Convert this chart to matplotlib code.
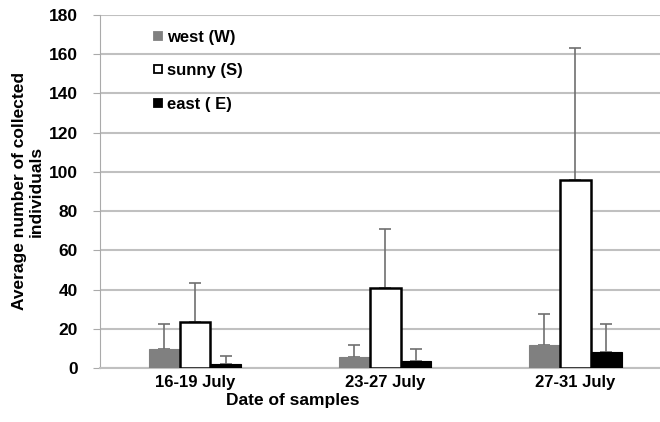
import matplotlib.pyplot as plt
import numpy as np
from matplotlib.lines import Line2D

plt.rcParams['font.family'] = ['Liberation Sans', 'DejaVu Sans']

dates = ['16-19 July', '23-27 July', '27-31 July']
series = ['west (W)', 'sunny (S)', 'east ( E)']
west = [9.5, 5.4, 11.7]
sunny = [23.5, 40.6, 95.9]
east = [2.0, 3.4, 8.3]
west_err = [12.9, 6.3, 15.7]
sunny_err = [19.8, 30.1, 67.4]
east_err = [4.1, 6.3, 14.0]

values = [west, sunny, east]
errors = [west_err, sunny_err, east_err]
faces = ['#808080', 'white', 'black']
edges = ['#808080', 'black', 'black']

fig = plt.figure(figsize=(6.6, 4.22), dpi=100)
ax = fig.add_axes([100 / 660, 54 / 422, 560 / 660, 353 / 422])

x = np.arange(len(dates))
w = 0.163
for i in range(3):
    ax.bar(x + (i - 1) * w, values[i], width=w, color=faces[i],
           edgecolor=edges[i], linewidth=1.8 if i == 1 else 0.8, zorder=3)
    ax.errorbar(x + (i - 1) * w, values[i], yerr=[np.zeros(3), errors[i]],
                fmt='none', ecolor='#707070', elinewidth=1.2, capsize=4,
                capthick=1.2, zorder=2)

ax.set_ylim(0, 180)
ax.set_yticks(np.arange(0, 181, 20))
ax.set_xlim(-0.5, 2.447)
ax.set_xticks(x)
ax.set_xticklabels(dates, fontsize=12, fontweight='bold')
for lab in ax.get_yticklabels():
    lab.set_fontsize(12.5)
    lab.set_fontweight('bold')
ax.tick_params(axis='x', length=0, pad=5)
ax.tick_params(axis='y', length=5, color='#aaaaaa', pad=11)
ax.yaxis.grid(True, color='#c0c0c0', linewidth=1.5, zorder=0)
ax.set_axisbelow(True)
for s in ['top', 'right']:
    ax.spines[s].set_visible(False)
ax.spines['left'].set_color('#aaaaaa')
ax.spines['bottom'].set_color('#c0c0c0')
ax.spines['bottom'].set_linewidth(1.5)

ax.set_xlabel('Date of samples', fontsize=12.5, fontweight='bold')
ax.xaxis.set_label_coords(0.345, -0.093)
ax.xaxis.label.set_va('center')
ax.set_ylabel('Average number of collected\nindividuals', fontsize=12.5,
              fontweight='bold', linespacing=1.15)
ax.yaxis.set_label_coords(-72 / 560, 0.5)
ax.yaxis.label.set_va('center')

handles = [Line2D([], [], linestyle='', marker='s', markersize=6,
                  markerfacecolor=faces[i], markeredgecolor=edges[i],
                  markeredgewidth=1.3) for i in range(3)]
ax.legend(handles, series, loc='upper left', bbox_to_anchor=(0.07, 1.0),
          frameon=False, handlelength=0.5, handletextpad=0.25,
          labelspacing=1.1, prop={'weight': 'bold', 'size': 12})

fig.savefig('out.png', dpi=100)
